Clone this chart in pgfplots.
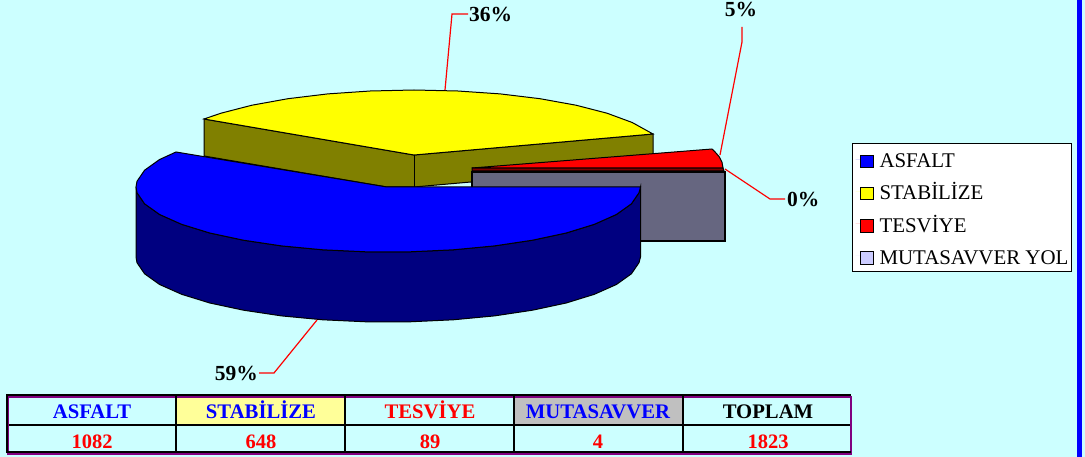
\documentclass[border=0pt]{standalone}
\usepackage{fontspec}
\setmainfont{Liberation Serif}
\usepackage{pgfplots}
\pgfplotsset{compat=1.18}
\definecolor{bgcyan}{HTML}{CCFFFF}
\definecolor{lilac}{HTML}{CCCCFF}
\definecolor{slateside}{HTML}{666680}
\definecolor{purpleedge}{HTML}{800080}
\definecolor{paleyellow}{HTML}{FFFF99}
\definecolor{cellgrey}{HTML}{C0C0C0}
\definecolor{pureblue}{HTML}{0000FF}
\definecolor{darkblue}{HTML}{000080}
\definecolor{pureyellow}{HTML}{FFFF00}
\definecolor{oliveside}{HTML}{808000}
\definecolor{purered}{HTML}{FF0000}
\definecolor{darkred}{HTML}{800000}
\newcommand{\pct}{\bfseries\fontsize{21.5}{22}\selectfont}
\newcommand{\cell}{\bfseries\fontsize{20.7}{21}\selectfont}
\newcommand{\num}{\bfseries\fontsize{20.5}{21}\selectfont}
\begin{document}
\begin{tikzpicture}
\begin{axis}[
    width=1085pt, height=457pt, scale only axis,
    xmin=0, xmax=1085, ymin=0, ymax=457,
    y dir=reverse,
    hide axis,
    legend cell align=left,
    legend image code/.code={\path[draw=none] (-5pt,0pt) -- (0pt,0pt); \draw[#1] (0pt,-8.5pt) rectangle (12.5pt,4pt);},
    legend style={
        at={(axis cs:852,143.5)}, anchor=north west,
        draw=black, line width=1pt, fill=white,
        font=\fontsize{20.9}{21}\selectfont,
        inner xsep=3pt, inner ysep=6.7pt,
        row sep=14.7pt,
        nodes={inner sep=0pt, text height=17pt, text depth=0pt},
        /tikz/every odd column/.style={column sep=6pt},
    },
]
% page background and the blue strip on the right
\addplot[fill=bgcyan, draw=none, forget plot] coordinates {(0,0)(1085,0)(1085,457)(0,457)} --cycle;
\addplot[fill=pureblue, draw=none, forget plot] coordinates {(1077,0)(1082,0)(1082,457)(1077,457)} --cycle;

% yellow slice (36%)
\addplot[fill=oliveside, draw=black, line width=1pt, forget plot] coordinates {
    (204,119)(414,155)(653,134)(653,166)(414,187)(387,187)(204,156)} --cycle;
\addplot[fill=pureyellow, draw=black, line width=1pt, forget plot] coordinates {
    (204,119)(221,113.2)(252,105.2)(288,98.7)(327.8,93.9)(370.2,91)(414,90)(457.8,91)
    (500.2,93.9)(540,98.7)(576,105.2)(607,113.2)(632.2,122.5)(653,134)(414,155)} --cycle;
\addplot[draw=black, line width=1pt, forget plot] coordinates {(414,155)(414,187)};

% mutasavver yol slice (0%)
\addplot[fill=slateside, draw=black, line width=1.2pt, forget plot] coordinates {
    (472,172)(725,172)(725,241)(472,241)} --cycle;

% red slice (5%)
\addplot[fill=darkred, draw=black, line width=1pt, forget plot] coordinates {
    (472,168)(723,168)(724,171)(472,171)} --cycle;
\addplot[fill=purered, draw=black, line width=1pt, forget plot] coordinates {
    (472,168)(712,149)(714.4,151.2)(719.2,156.7)(722,162.3)(723,168)} --cycle;

% blue slice (59%)
\addplot[fill=darkblue, draw=black, line width=1pt, forget plot] coordinates {
    (640.5,187)(639,192.7)(631.4,203.8)(616.4,214.5)(594.4,224.3)(566.2,233)(532.5,240.2)
    (494.5,245.9)(453.2,249.8)(410,251.8)(366,251.8)(322.8,249.8)(281.5,245.9)(243.5,240.2)
    (209.8,233)(181.6,224.3)(159.6,214.5)(144.6,203.8)(137,192.7)(136,187)
    (136,257)(137,262.7)(144.6,273.8)(159.6,284.5)(181.6,294.3)(209.8,303)(243.5,310.2)
    (281.5,315.9)(322.8,319.8)(366,321.8)(410,321.8)(453.2,319.8)(494.5,315.9)(532.5,310.2)
    (566.2,303)(594.4,294.3)(616.4,284.5)(631.4,273.8)(639,262.7)(640.5,257)} --cycle;
\addplot[fill=pureblue, draw=black, line width=1pt, forget plot] coordinates {
    (176,152)(387,187)(640.5,187)(639,192.7)(631.4,203.8)(616.4,214.5)(594.4,224.3)(566.2,233)
    (532.5,240.2)(494.5,245.9)(453.2,249.8)(410,251.8)(366,251.8)(322.8,249.8)(281.5,245.9)
    (243.5,240.2)(209.8,233)(181.6,224.3)(159.6,214.5)(144.6,203.8)(137,192.7)(136,187)
    (137,181.3)(144.6,170.2)(159.6,159.5)} --cycle;

% leader lines
\addplot[purered, line width=1.2pt, forget plot] coordinates {(445,90)(452,14)(468,14)};
\addplot[purered, line width=1.2pt, forget plot] coordinates {(720,155)(742,42)(742,27)};
\addplot[purered, line width=1.2pt, forget plot] coordinates {(725,169)(770,199)(785,199)};
\addplot[purered, line width=1.2pt, forget plot] coordinates {(317,320)(274,373)(259,373)};

\node[font=\pct, inner sep=0pt, anchor=base west] at (axis cs:469,22) {36\%};
\node[font=\pct, inner sep=0pt, anchor=base] at (axis cs:741,16.5) {5\%};
\node[font=\pct, inner sep=0pt, anchor=base west] at (axis cs:787,207) {0\%};
\node[font=\pct, inner sep=0pt, anchor=base east] at (axis cs:258,380) {59\%};

% legend
\addlegendimage{fill=pureblue, draw=black, line width=1pt}
\addlegendentry{ASFALT}
\addlegendimage{fill=pureyellow, draw=black, line width=1pt}
\addlegendentry{STABİLİZE}
\addlegendimage{fill=purered, draw=black, line width=1pt}
\addlegendentry{TESVİYE}
\addlegendimage{fill=lilac, draw=black, line width=1pt}
\addlegendentry{MUTASAVVER YOL}

% table under the chart
\addplot[fill=paleyellow, draw=none, forget plot] coordinates {(176,397)(345,397)(345,425)(176,425)} --cycle;
\addplot[fill=cellgrey, draw=none, forget plot] coordinates {(514,397)(683,397)(683,425)(514,425)} --cycle;
\addplot[draw=purpleedge, line width=2.5pt, forget plot] coordinates {(8,397)(851,397)(851,453.5)(8,453.5)} --cycle;
\addplot[draw=black, line width=1.5pt, forget plot] coordinates {(851,395)(7,395)(7,452)(851,452)};
\addplot[draw=black, line width=1.7pt, forget plot] coordinates {(9,425)(850,425)};
\addplot[draw=black, line width=1.7pt, forget plot] coordinates {(176,396)(176,452)};
\addplot[draw=black, line width=1.7pt, forget plot] coordinates {(345,396)(345,452)};
\addplot[draw=black, line width=1.7pt, forget plot] coordinates {(514,396)(514,452)};
\addplot[draw=black, line width=1.7pt, forget plot] coordinates {(683,396)(683,452)};

\node[font=\cell, text=pureblue, anchor=base] at (axis cs:92,418) {ASFALT};
\node[font=\cell, text=pureblue, anchor=base] at (axis cs:261,418) {STABİLİZE};
\node[font=\cell, text=purered, anchor=base] at (axis cs:430,418) {TESVİYE};
\node[font=\cell, text=pureblue, anchor=base] at (axis cs:598,418) {MUTASAVVER};
\node[font=\cell, text=black, anchor=base] at (axis cs:768,418) {TOPLAM};
\node[font=\num, text=purered, anchor=base] at (axis cs:92,448) {1082};
\node[font=\num, text=purered, anchor=base] at (axis cs:261,448) {648};
\node[font=\num, text=purered, anchor=base] at (axis cs:430,448) {89};
\node[font=\num, text=purered, anchor=base] at (axis cs:598,448) {4};
\node[font=\num, text=purered, anchor=base] at (axis cs:768,448) {1823};
\end{axis}
\end{tikzpicture}
\end{document}
